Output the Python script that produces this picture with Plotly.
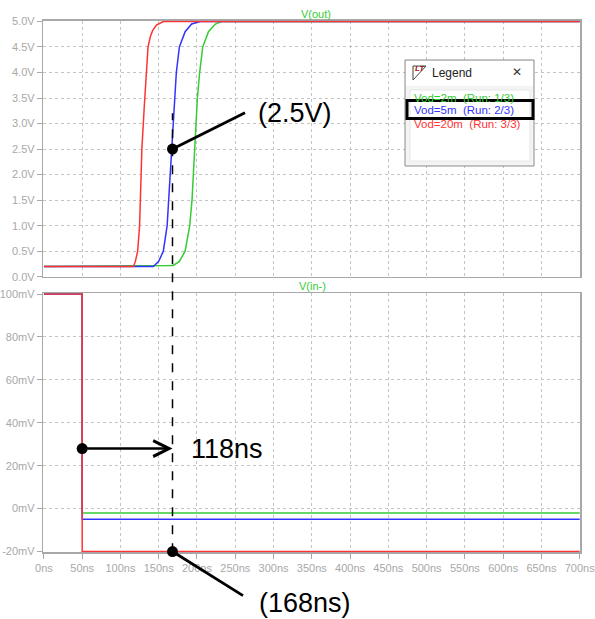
import plotly.graph_objects as go

W, H = 595, 619

# ---------------- data ----------------
run_names = ["Vod=2m", "Vod=5m", "Vod=20m"]
run_labels = ["Vod=2m\u00a0\u00a0(Run: 1/3)", "Vod=5m\u00a0\u00a0(Run: 2/3)", "Vod=20m\u00a0\u00a0(Run: 3/3)"]
run_colors = ["#33cc33", "#3333ff", "#ff3333"]

# V(out) transient, time in ns, volts
t_out_2m = [0, 169, 177, 184.5, 190.5, 193.5, 197, 200.5, 203.5, 207.5, 215, 224, 232, 700]
v_out_2m = [0.2, 0.22, 0.3, 0.5, 1.0, 1.5, 2.5, 3.5, 4.0, 4.5, 4.8, 4.95, 5.0, 5.0]
t_out_5m = [0, 143, 150, 156, 161, 163, 167.5, 171, 173, 177, 184.5, 193, 204, 700]
v_out_5m = [0.2, 0.2, 0.3, 0.5, 1.0, 1.5, 2.5, 3.5, 4.0, 4.5, 4.8, 4.95, 5.0, 5.0]
t_out_20m = [0, 117, 119.5, 122.5, 125, 128, 131, 134, 136, 139, 142, 147, 156, 700]
v_out_20m = [0.2, 0.2, 0.3, 0.5, 1.0, 2.5, 3.3, 4.0, 4.5, 4.7, 4.82, 4.93, 5.0, 5.0]

# V(in-), time in ns, millivolts
t_in = [0, 50, 50, 700]
v_in_2m = [100, 100, -2, -2]
v_in_5m = [100, 100, -5, -5]
v_in_20m = [100, 100, -20, -20]

x_tick_vals = [0, 50, 100, 150, 200, 250, 300, 350, 400, 450, 500, 550, 600, 650, 700]
x_tick_text = ["0ns", "50ns", "100ns", "150ns", "200ns", "250ns", "300ns", "350ns",
               "400ns", "450ns", "500ns", "550ns", "600ns", "650ns", "700ns"]
y1_tick_vals = [0, 0.5, 1.0, 1.5, 2.0, 2.5, 3.0, 3.5, 4.0, 4.5, 5.0]
y1_tick_text = ["0.0V", "0.5V", "1.0V", "1.5V", "2.0V", "2.5V", "3.0V", "3.5V", "4.0V", "4.5V", "5.0V"]
y2_tick_vals = [-20, 0, 20, 40, 60, 80, 100]
y2_tick_text = ["-20mV", "0mV", "20mV", "40mV", "60mV", "80mV", "100mV"]

# annotation values
t_step = 50        # input step time (ns)
t_cross = 168      # 2.5V crossing of Vod=5m (ns)
v_cross = 2.5      # threshold (V)
delay_level = 28   # mV level of the delay arrow
v_floor = -20      # mV bottom of lower plot


def px(x):
    return x / W


def py(y):
    return 1 - y / H


fig = go.Figure()

out_series = [(t_out_2m, v_out_2m), (t_out_5m, v_out_5m), (t_out_20m, v_out_20m)]
in_series = [v_in_2m, v_in_5m, v_in_20m]
for i in range(3):
    fig.add_trace(go.Scatter(x=out_series[i][0], y=out_series[i][1], mode="lines",
                             line=dict(color=run_colors[i], width=1.5),
                             xaxis="x", yaxis="y", showlegend=False, hoverinfo="skip"))
for i in range(3):
    fig.add_trace(go.Scatter(x=t_in, y=in_series[i], mode="lines",
                             line=dict(color=run_colors[i], width=1.5),
                             xaxis="x2", yaxis="y2", showlegend=False, hoverinfo="skip"))

# marker dots
fig.add_trace(go.Scatter(x=[t_cross], y=[v_cross], mode="markers",
                         marker=dict(color="black", size=11), cliponaxis=False,
                         xaxis="x", yaxis="y", showlegend=False, hoverinfo="skip"))
fig.add_trace(go.Scatter(x=[t_step, t_cross], y=[delay_level, v_floor], mode="markers",
                         marker=dict(color="black", size=11), cliponaxis=False,
                         xaxis="x2", yaxis="y2", showlegend=False, hoverinfo="skip"))

x_dom = [px(43.3), px(580)]
grid = "#c4c4c4"
axis_col = "#a8a8a8"
tick_font = dict(family="Liberation Sans, Arial", size=11, color="#a8a8a8")

common_x = dict(range=[-0.8, 700.4], domain=x_dom, tickvals=x_tick_vals, ticktext=x_tick_text,
                showgrid=True, gridcolor=grid, griddash="dot", gridwidth=1,
                showline=True, linecolor=axis_col, linewidth=1.5, mirror=True,
                zeroline=False, tickfont=tick_font, ticks="outside", ticklen=5,
                tickcolor=axis_col, layer="below traces", automargin=False,
                ticklabeloverflow="allow")
common_y = dict(showgrid=True, gridcolor=grid, griddash="dot", gridwidth=1,
                showline=True, linecolor=axis_col, linewidth=1.5, mirror=True,
                zeroline=False, tickfont=tick_font, ticks="outside", ticklen=5,
                tickcolor=axis_col, layer="below traces", automargin=False,
                ticklabeloverflow="allow")

fig.update_layout(
    width=W, height=H, autosize=False,
    margin=dict(l=0, r=0, t=0, b=0, pad=0),
    paper_bgcolor="white", plot_bgcolor="white",
    xaxis=dict(common_x, anchor="y", showticklabels=False, ticks=""),
    yaxis=dict(common_y, domain=[py(276.7), py(20.7)], range=[0, 5.015],
               tickvals=y1_tick_vals, ticktext=y1_tick_text, anchor="x"),
    xaxis2=dict(common_x, anchor="y2"),
    yaxis2=dict(common_y, domain=[py(552.3), py(293.3)], range=[-20.35, 100.35],
                tickvals=y2_tick_vals, ticktext=y2_tick_text, anchor="x2"),
)

shapes = []
annotations = []

# dashed vertical marker spanning both panes
shapes.append(dict(type="line", xref="x", yref="paper", x0=t_cross, x1=t_cross,
                   y0=py(552.3), y1=py(113.3), line=dict(color="black", width=1.5, dash="dash")))

# connector lines (pixel offsets from data points)
annotations.append(dict(x=t_cross, y=v_cross, xref="x", yref="y", text="", showarrow=True,
                        arrowhead=0, ax=74, ay=-37, arrowwidth=2.8, arrowcolor="black"))
annotations.append(dict(x=t_cross, y=v_floor, xref="x2", yref="y2", text="", showarrow=True,
                        arrowhead=0, ax=72, ay=45, arrowwidth=2.8, arrowcolor="black"))
# delay arrow
annotations.append(dict(x=t_cross, y=delay_level, xref="x2", yref="y2", text="", showarrow=True,
                        ax=t_step, ay=delay_level, axref="x2", ayref="y2",
                        arrowhead=5, arrowsize=1.2, arrowwidth=2.6, arrowcolor="black", standoff=0))

big = dict(family="Liberation Sans, Arial", size=27, color="black")
annotations.append(dict(x=px(256), y=py(113), xref="paper", yref="paper", text="(2.5V)",
                        showarrow=False, xanchor="left", yanchor="middle", font=big))
annotations.append(dict(x=px(189), y=py(449), xref="paper", yref="paper", text="118ns",
                        showarrow=False, xanchor="left", yanchor="middle", font=big))
annotations.append(dict(x=px(257), y=py(603), xref="paper", yref="paper", text="(168ns)",
                        showarrow=False, xanchor="left", yanchor="middle", font=big))

# pane titles
lab = dict(family="Liberation Sans, Arial", size=11, color="#33cc33")
annotations.append(dict(x=px(316), y=py(14), xref="paper", yref="paper", text="V(out)",
                        showarrow=False, xanchor="center", yanchor="middle", font=lab))
annotations.append(dict(x=px(312), y=py(286), xref="paper", yref="paper", text="V(in-)",
                        showarrow=False, xanchor="center", yanchor="middle", font=lab))

# legend window
shapes.append(dict(type="rect", xref="paper", yref="paper", x0=px(405), x1=px(534),
                   y0=py(166), y1=py(60), fillcolor="#f4f4f4",
                   line=dict(color="#8a8a8a", width=1), layer="above"))
shapes.append(dict(type="rect", xref="paper", yref="paper", x0=px(406), x1=px(533),
                   y0=py(86), y1=py(61), fillcolor="white",
                   line=dict(width=0), layer="above"))
shapes.append(dict(type="rect", xref="paper", yref="paper", x0=px(410), x1=px(530),
                   y0=py(161), y1=py(90), fillcolor="white",
                   line=dict(color="#e6e6e6", width=1), layer="above"))
# LT icon (pennant)
shapes.append(dict(type="path", xref="paper", yref="paper",
                   path=f"M {px(413)},{py(80)} L {px(413)},{py(66)} L {px(426)},{py(66)} Z",
                   fillcolor="white", line=dict(color="#444444", width=1), layer="above"))
annotations.append(dict(x=px(419.5), y=py(68.5), xref="paper", yref="paper", text="<b><i>LT</i></b>",
                        showarrow=False, xanchor="center", yanchor="middle",
                        font=dict(family="Liberation Sans, Arial", size=8, color="#a01010")))
annotations.append(dict(x=px(430), y=py(73), xref="paper", yref="paper", text="Legend",
                        showarrow=False, xanchor="left", yanchor="middle",
                        font=dict(family="Liberation Sans, Arial", size=12, color="#222222")))
annotations.append(dict(x=px(517), y=py(72), xref="paper", yref="paper", text="\u2715",
                        showarrow=False, xanchor="center", yanchor="middle",
                        font=dict(family="DejaVu Sans", size=12, color="#333333")))
entry_y = [97.5, 110, 124.5]
for i in range(3):
    annotations.append(dict(x=px(411.5), y=py(entry_y[i]), xref="paper", yref="paper",
                            text=run_labels[i], showarrow=False, xanchor="left", yanchor="middle",
                            font=dict(family="Liberation Sans, Arial", size=11.5, color=run_colors[i])))
shapes.append(dict(type="rect", xref="paper", yref="paper", x0=px(407), x1=px(533),
                   y0=py(118.5), y1=py(100.5), line=dict(color="black", width=3), layer="above"))

fig.update_layout(shapes=shapes, annotations=annotations)
fig.write_html("out.html", config={"displayModeBar": False, "staticPlot": True},
               post_script="document.body.style.margin='0';document.body.style.overflow='hidden';")
